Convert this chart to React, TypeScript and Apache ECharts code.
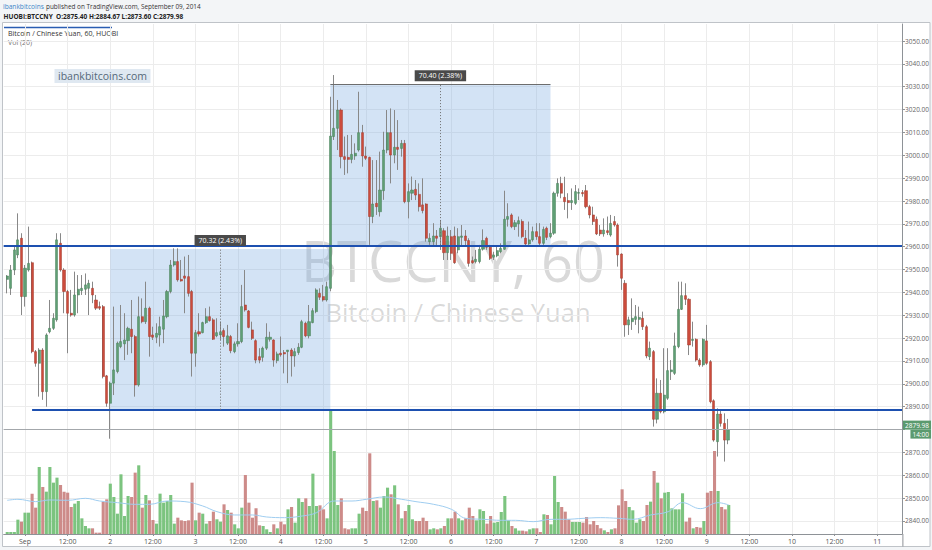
import React, { useEffect, useRef } from 'react';
import * as echarts from 'echarts';

// ---------- data ----------
const K0 = -6; // hour offset (from Sep 1 00:00) of the first category
const CATEGORY_COUNT = 254;
const categories = Array.from({ length: CATEGORY_COUNT }, (_, i) => String(i + K0));
const FIRST_CANDLE_HOUR = -5;

// [open, close, low, high], hourly from hour -5
const ohlc: number[][] = [
  [2945.7, 2947.2, 2939.6, 2947.6], [2941.8, 2949.8, 2938.9, 2952.0], [2949.8, 2958.6, 2947.6, 2960.0],
  [2956.4, 2963.0, 2955.0, 2974.6], [2963.7, 2938.2, 2930.1, 2965.9],
  [2938.2, 2950.6, 2933.8, 2952.0], [2949.8, 2952.7, 2949.1, 2968.8], [2953.0, 2914.1, 2913.4, 2953.5],
  [2914.1, 2909.0, 2907.5, 2914.8], [2909.0, 2914.8, 2894.4, 2915.6], [2914.8, 2896.6, 2893.0, 2915.6],
  [2896.6, 2921.4, 2890.0, 2922.1], [2922.8, 2924.3, 2922.1, 2936.7], [2924.3, 2928.7, 2923.6, 2930.9],
  [2928.0, 2963.0, 2927.2, 2965.9], [2961.5, 2949.8, 2949.1, 2965.9], [2949.8, 2940.4, 2930.9, 2950.6],
  [2940.4, 2930.9, 2913.4, 2941.1], [2930.9, 2930.1, 2929.4, 2941.1], [2930.1, 2938.9, 2929.4, 2949.1],
  [2938.9, 2941.4, 2930.9, 2947.6], [2940.8, 2941.8, 2938.9, 2947.6], [2941.4, 2943.3, 2938.9, 2948.3],
  [2941.8, 2944.0, 2930.1, 2945.5], [2941.8, 2938.9, 2935.3, 2944.7], [2936.7, 2933.1, 2932.3, 2938.9],
  [2933.8, 2933.1, 2932.3, 2936.0], [2933.8, 2903.2, 2902.4, 2934.5], [2903.5, 2891.5, 2890.0, 2903.9],
  [2891.5, 2900.3, 2876.0, 2901.0], [2900.3, 2906.1, 2895.1, 2933.8], [2905.4, 2917.8, 2904.6, 2918.5],
  [2916.3, 2918.5, 2915.6, 2934.5], [2917.5, 2919.2, 2910.4, 2930.9], [2918.9, 2924.3, 2912.7, 2925.0],
  [2923.9, 2920.7, 2913.4, 2936.7], [2920.7, 2899.5, 2894.4, 2921.4], [2899.5, 2929.4, 2898.8, 2938.2],
  [2929.4, 2927.2, 2926.5, 2937.4], [2927.2, 2933.1, 2926.2, 2944.7], [2933.1, 2920.7, 2911.9, 2933.8],
  [2921.4, 2920.4, 2919.2, 2925.0], [2920.4, 2922.1, 2917.8, 2926.5], [2921.4, 2925.0, 2916.3, 2929.4],
  [2923.9, 2929.7, 2917.8, 2936.7], [2929.4, 2940.4, 2928.7, 2941.1], [2940.4, 2952.0, 2939.6, 2954.2],
  [2952.0, 2953.5, 2951.3, 2959.3], [2953.5, 2945.5, 2944.7, 2959.3], [2945.7, 2945.0, 2944.7, 2954.2],
  [2947.2, 2946.2, 2930.9, 2955.7], [2946.9, 2939.6, 2938.2, 2956.4], [2940.4, 2913.4, 2903.2, 2941.1],
  [2913.4, 2922.4, 2907.5, 2923.6], [2922.8, 2921.8, 2920.7, 2930.9], [2922.4, 2926.8, 2922.1, 2927.2],
  [2926.8, 2929.4, 2926.2, 2933.1], [2929.4, 2927.7, 2927.2, 2933.8], [2928.0, 2919.5, 2919.2, 2928.7],
  [2921.0, 2922.4, 2920.4, 2928.7], [2921.4, 2922.8, 2919.2, 2927.2], [2923.3, 2920.7, 2916.3, 2924.3],
  [2917.8, 2921.0, 2917.0, 2925.8], [2920.7, 2914.5, 2913.4, 2921.4], [2914.1, 2917.5, 2913.4, 2918.5],
  [2917.5, 2918.5, 2916.3, 2926.5], [2918.5, 2933.8, 2917.8, 2943.3], [2934.5, 2932.3, 2931.6, 2949.8],
  [2931.9, 2924.7, 2924.3, 2932.3], [2923.6, 2919.9, 2919.2, 2927.2], [2918.9, 2910.4, 2909.0, 2919.5],
  [2911.9, 2910.4, 2909.0, 2915.6], [2911.6, 2915.6, 2909.7, 2916.3], [2915.6, 2920.4, 2914.8, 2926.5],
  [2919.5, 2920.4, 2918.5, 2922.8], [2919.2, 2910.4, 2907.5, 2919.5], [2910.2, 2913.1, 2909.0, 2914.1],
  [2913.4, 2912.7, 2911.9, 2920.7], [2913.7, 2913.1, 2904.6, 2914.8], [2914.1, 2914.8, 2900.3, 2914.8],
  [2914.8, 2912.2, 2903.2, 2915.6], [2912.2, 2914.1, 2907.5, 2915.6], [2913.7, 2916.0, 2912.7, 2917.8],
  [2916.0, 2927.2, 2915.6, 2928.0], [2926.5, 2921.0, 2920.4, 2927.2], [2921.0, 2927.2, 2919.9, 2934.5],
  [2926.8, 2932.0, 2926.5, 2933.1], [2931.6, 2941.1, 2930.9, 2941.8], [2939.6, 2937.9, 2936.7, 2941.8],
  [2938.2, 2936.7, 2936.0, 2943.3], [2936.7, 2942.5, 2936.0, 2944.7], [2941.8, 3008.4, 2940.5, 3025.6],
  [3008.2, 3011.8, 3006.7, 3035.1], [3011.8, 3019.8, 3002.3, 3024.2], [3019.8, 2999.4, 2994.3, 3020.5],
  [2999.4, 2998.2, 2991.4, 3008.2], [2999.1, 2998.2, 2992.1, 3008.9], [2998.2, 3000.4, 2996.5, 3008.9],
  [2999.7, 3000.9, 2998.0, 3005.2], [3002.3, 3009.9, 3001.6, 3027.8], [3009.9, 2999.7, 2995.0, 3013.3],
  [2999.7, 2998.7, 2997.9, 3003.8], [2999.1, 2973.2, 2960.8, 2999.4], [2973.2, 2978.7, 2970.3, 2997.9],
  [2979.0, 2977.5, 2973.9, 2997.9], [2975.3, 2984.8, 2973.2, 3001.6], [2984.5, 3002.3, 2980.5, 3010.3],
  [3002.3, 3009.9, 3000.9, 3019.8], [3009.9, 3000.1, 2987.7, 3020.5], [3000.1, 3003.5, 2996.5, 3019.8],
  [3003.5, 3002.6, 2993.6, 3015.4], [3003.0, 3005.2, 2999.4, 3006.7], [3005.2, 2979.7, 2979.0, 3006.7],
  [2979.7, 2984.1, 2972.4, 2987.7], [2983.4, 2984.8, 2980.4, 2990.7], [2985.1, 2982.6, 2980.4, 2989.2],
  [2982.9, 2977.5, 2975.4, 2987.7], [2978.3, 2975.8, 2974.6, 2989.9], [2978.7, 2963.7, 2962.2, 2979.0],
  [2962.2, 2963.7, 2960.8, 2965.9], [2962.2, 2964.7, 2960.0, 2970.3], [2964.7, 2963.7, 2960.0, 2967.3],
  [2964.4, 2968.1, 2958.6, 2971.7], [2967.0, 2957.4, 2954.2, 2968.1], [2957.4, 2964.7, 2954.2, 2968.8],
  [2964.4, 2957.1, 2954.2, 2967.3], [2964.7, 2953.0, 2952.5, 2968.8], [2958.6, 2964.4, 2957.1, 2968.1],
  [2964.1, 2964.7, 2960.0, 2969.5], [2964.7, 2962.7, 2960.0, 2967.3], [2962.7, 2952.7, 2951.3, 2963.7],
  [2953.9, 2953.0, 2952.5, 2955.7], [2953.5, 2954.5, 2952.7, 2958.6], [2953.5, 2958.9, 2952.7, 2960.8],
  [2958.9, 2962.7, 2958.3, 2967.6], [2963.7, 2959.8, 2958.6, 2964.4], [2959.8, 2954.9, 2954.2, 2960.8],
  [2955.4, 2956.4, 2954.2, 2957.8], [2956.0, 2958.3, 2955.4, 2960.0], [2957.8, 2959.3, 2957.1, 2961.5],
  [2958.9, 2972.0, 2958.6, 2984.5], [2972.0, 2973.2, 2968.8, 2979.0], [2973.9, 2968.8, 2968.1, 2974.6],
  [2968.8, 2970.5, 2967.3, 2971.7], [2970.0, 2971.4, 2964.4, 2973.2], [2971.1, 2964.4, 2963.7, 2972.0],
  [2963.7, 2961.2, 2960.0, 2967.3], [2961.2, 2963.0, 2960.8, 2971.0], [2963.0, 2966.6, 2962.2, 2968.8],
  [2966.6, 2964.4, 2963.0, 2970.3], [2964.4, 2961.5, 2960.0, 2970.3], [2961.5, 2967.6, 2960.8, 2968.8],
  [2968.1, 2964.1, 2962.9, 2968.8], [2964.4, 2965.9, 2963.7, 2970.3], [2965.9, 2983.4, 2965.2, 2984.1],
  [2983.4, 2987.7, 2981.9, 2989.9], [2987.7, 2983.4, 2981.2, 2990.6], [2981.6, 2979.7, 2976.1, 2990.6],
  [2980.2, 2979.3, 2972.4, 2983.4], [2979.3, 2980.2, 2976.1, 2985.5], [2979.0, 2984.1, 2978.3, 2987.0],
  [2983.4, 2983.7, 2980.4, 2985.5], [2983.7, 2983.2, 2981.9, 2984.8], [2984.5, 2977.5, 2976.8, 2987.0],
  [2977.5, 2973.9, 2972.4, 2978.3], [2973.9, 2971.0, 2969.5, 2977.5], [2972.0, 2965.6, 2965.1, 2973.2],
  [2967.3, 2965.6, 2964.7, 2969.5], [2965.6, 2967.3, 2964.4, 2972.4], [2967.0, 2966.2, 2965.1, 2973.2],
  [2965.1, 2970.2, 2964.4, 2973.9], [2971.0, 2969.5, 2968.8, 2973.4], [2969.5, 2956.4, 2951.3, 2970.2],
  [2956.8, 2946.2, 2941.1, 2957.1], [2944.0, 2925.8, 2920.6, 2945.4], [2925.8, 2928.0, 2921.4, 2929.4],
  [2927.2, 2928.7, 2923.6, 2937.4], [2928.2, 2929.4, 2925.8, 2934.5], [2928.2, 2929.1, 2922.1, 2933.8],
  [2928.7, 2925.0, 2923.6, 2931.6], [2925.0, 2912.2, 2911.2, 2925.8], [2911.9, 2915.6, 2910.4, 2918.5],
  [2914.1, 2884.5, 2881.3, 2914.8], [2884.5, 2895.9, 2882.7, 2902.4], [2895.9, 2887.8, 2887.1, 2901.7],
  [2887.8, 2895.1, 2887.1, 2915.6], [2893.7, 2905.8, 2893.0, 2915.6], [2905.3, 2906.1, 2901.7, 2910.4],
  [2904.6, 2916.6, 2903.9, 2922.4], [2916.3, 2932.6, 2915.6, 2944.7], [2932.6, 2938.6, 2932.3, 2944.7],
  [2938.6, 2937.0, 2934.5, 2944.0], [2937.0, 2917.0, 2912.6, 2937.4], [2919.0, 2919.5, 2916.3, 2927.2],
  [2919.5, 2910.4, 2909.7, 2919.9], [2910.4, 2908.3, 2907.5, 2911.2], [2908.3, 2919.5, 2907.5, 2919.9],
  [2918.8, 2909.0, 2908.3, 2925.8], [2909.7, 2892.2, 2891.5, 2910.4], [2892.6, 2875.4, 2874.7, 2893.2],
  [2874.7, 2886.8, 2868.2, 2889.3], [2886.8, 2882.7, 2881.3, 2888.9], [2882.7, 2875.4, 2866.0, 2887.1],
  [2875.40, 2879.98, 2873.60, 2884.67],
];

const volume: number[] = [
  60, 60, 60, 427, 367,
  635, 635, 1201, 784, 1994, 1399, 1260, 1994, 1528, 1677,
  1459, 1260, 1230, 804, 903, 982, 466, 238, 169, 169,
  40, 40, 963, 1032, 1498, 1101, 605, 1776, 536, 1131,
  1101, 1826, 2044, 784, 1161, 1002, 417, 308, 1201, 933,
  982, 1161, 308, 486, 407, 387, 407, 1528, 407, 635,
  605, 308, 387, 665, 437, 367, 883, 715, 635, 288,
  169, 784, 1756, 933, 486, 764, 258, 238, 139, 60,
  288, 169, 367, 288, 734, 804, 338, 1062, 953, 1062,
  834, 1796, 834, 853, 734, 466, 3720, 2470, 863, 1062,
  169, 139, 169, 169, 605, 784, 685, 2401, 982, 1002,
  784, 1131, 1379, 1181, 1449, 883, 466, 685, 863, 437,
  387, 387, 486, 387, 139, 169, 139, 169, 238, 466,
  466, 665, 466, 407, 466, 784, 536, 407, 734, 685,
  308, 536, 338, 357, 655, 1131, 407, 238, 169, 100,
  100, 80, 139, 169, 169, 60, 586, 566, 288, 1726,
  953, 804, 665, 437, 357, 357, 357, 338, 506, 288,
  387, 268, 169, 109, 60, 139, 169, 853, 1330, 982,
  804, 705, 338, 437, 387, 863, 963, 1875, 1528, 1062,
  1230, 1250, 764, 734, 734, 1211, 367, 486, 169, 209,
  189, 387, 1230, 1280, 2470, 1280, 804, 734, 864,
];

// Vol (20) moving average, read at [hour, value]
const volumeMA: number[][] = [
  [-5, 1002], [-2, 1032], [3, 963], [7, 1012], [12, 1002], [17, 1062], [21, 982], [26, 933],
  [31, 883], [35, 883], [40, 982], [45, 963], [50, 834], [54, 665], [59, 566], [64, 566],
  [68, 506], [73, 486], [78, 536], [82, 635], [87, 982], [92, 982], [96, 1032], [101, 1101],
  [106, 1032], [110, 963], [115, 883], [120, 734], [124, 466], [129, 437], [134, 407], [138, 407],
  [143, 367], [148, 437], [152, 437], [157, 466], [162, 486], [167, 466], [171, 437], [176, 566],
  [181, 665], [185, 933], [190, 754], [195, 933], [198, 863],
];

const tickLabels = ['Sep', '12:00', '2', '12:00', '3', '12:00', '4', '12:00', '5', '12:00', '6', '12:00',
  '7', '12:00', '8', '12:00', '9', '12:00', '10', '12:00', '11'];
const priceTicks = [2840, 2850, 2860, 2870, 2880, 2890, 2900, 2910, 2920, 2930, 2940,
  2950, 2960, 2970, 2980, 2990, 3000, 3010, 3020, 3030, 3040, 3050];
// 2880.00 sits under the last-price tag, so it has no visible label
const priceLabels = priceTicks.filter((v) => v !== 2880);

const upperLevel = 2960.3;
const lowerLevel = 2888.6;
const lowerLevelStartHour = 2;
const range1 = { fromHour: 24, toHour: 86, midHour: 55, low: 2888.7, high: 2959.0, label: '70.32 (2.43%)' };
const range2 = { fromHour: 86, toHour: 148, midHour: 117, low: 2960.7, high: 3031.1, label: '70.40 (2.38%)' };
const lastClose = 2879.98;
const countdown = '14:00';
const lastVolume = 864;

// ---------- layout ----------
const PRICE_MIN = 2834.31;
const PRICE_MAX = 3057.44;
const VOL_MAX = 4464;
const FONT = '"Open Sans", "Noto Sans", sans-serif';

const idx = (h: number) => h - K0;
const isTick = (index: number) => {
  const h = index + K0;
  return h >= 0 && h <= 240 && h % 12 === 0;
};

export default function App() {
  const ref = useRef<HTMLDivElement>(null);

  useEffect(() => {
    if (!ref.current) return;
    const chart = echarts.init(ref.current, undefined, { renderer: 'svg' });
    const offset = FIRST_CANDLE_HOUR - K0;
    const empty = ['-', '-', '-', '-'];
    const wickData = categories.map((_, i) => {
      const r = ohlc[i - offset];
      return r ? r : empty;
    });
    const bodyData = categories.map((_, i) => {
      const r = ohlc[i - offset];
      return r ? [r[0], r[1], Math.min(r[0], r[1]), Math.max(r[0], r[1])] : empty;
    });
    const volData = categories.map((_, i) => {
      const r = ohlc[i - offset];
      const v = volume[i - offset];
      if (!r || v == null) return '-';
      return { value: v, itemStyle: { color: r[1] >= r[0] ? '#7cc47f' : '#cd8b89' } };
    });
    const maData = volumeMA.map(([h, v]) => [idx(h), v]);
    const N = CATEGORY_COUNT - 1;

    const tagStyle = (bg: string) => ({
      backgroundColor: bg, color: '#fff', fontSize: 6.5, fontFamily: FONT, padding: [1, 2, 1, 2],
    });

    const option: any = {
      animation: false,
      backgroundColor: '#ffffff',
      grid: [
        { left: 3.68, right: 29.1, top: 24, bottom: 16 },
        { left: 3.68, right: 29.1, top: 384, bottom: 16 },
      ],
      xAxis: [
        {
          type: 'category', gridIndex: 0, data: categories, boundaryGap: false,
          axisLine: { lineStyle: { color: '#8e9297' } },
          axisTick: { show: true, interval: isTick, length: 2, lineStyle: { color: '#8e9297' } },
          axisLabel: {
            interval: isTick, fontSize: 7, color: '#555', margin: 4, fontFamily: FONT,
            formatter: (v: string) => tickLabels[Number(v) / 12] ?? '',
          },
          splitLine: { show: true, interval: isTick, lineStyle: { color: '#ececec', width: 1 } },
        },
        {
          type: 'category', gridIndex: 1, data: categories, boundaryGap: false, show: false,
        },
      ],
      yAxis: [
        {
          type: 'value', gridIndex: 0, position: 'right', min: PRICE_MIN, max: PRICE_MAX,
          axisLine: { show: true, lineStyle: { color: '#8e9297' } },
          axisTick: { show: true, customValues: priceTicks, length: 3, lineStyle: { color: '#8e9297' } },
          axisLabel: {
            customValues: priceLabels, fontSize: 6.5, color: '#666', margin: 3, fontFamily: FONT,
            formatter: (v: number) => v.toFixed(2),
          },
          splitLine: { show: true, lineStyle: { color: '#ececec', width: 1 } },
        },
        { type: 'value', gridIndex: 1, min: 0, max: VOL_MAX, show: false, splitLine: { show: false } },
      ],
      series: [
        {
          type: 'bar', name: 'volume', xAxisIndex: 1, yAxisIndex: 1, data: volData, barWidth: 3.1,
          z: 1, clip: false, silent: true,
          markLine: {
            silent: true, symbol: ['none', 'none'],
            data: [{
              yAxis: lastVolume, lineStyle: { opacity: 0 },
              label: {
                show: true, position: 'end', distance: 1, formatter: String(lastVolume),
                ...tagStyle('#2f9be8'), fontSize: 6, lineHeight: 6, padding: [0.5, 2, 0.5, 2],
              },
            }],
          },
        },
        {
          type: 'line', name: 'vol ma', xAxisIndex: 1, yAxisIndex: 1, data: maData, symbol: 'none',
          smooth: 0.4, z: 2, silent: true, lineStyle: { color: '#9fcdf0', width: 1 },
        },
        {
          type: 'candlestick', name: 'wick', xAxisIndex: 0, yAxisIndex: 0, data: wickData, barWidth: 1,
          z: 3, clip: false, silent: true,
          itemStyle: { color: '#888', color0: '#888', borderColor: '#888', borderColor0: '#888', borderWidth: 1 },
        },
        {
          type: 'candlestick', name: 'BTCCNY', xAxisIndex: 0, yAxisIndex: 0, data: bodyData, barWidth: 2.6,
          z: 4, clip: false, silent: true,
          itemStyle: {
            color: '#5f9f74', color0: '#cc4b3c', borderColor: '#467f58', borderColor0: '#a23a2d', borderWidth: 0.5,
          },
          markArea: {
            silent: true,
            itemStyle: { color: 'rgba(120,170,225,0.33)' },
            data: [
              [{ coord: [idx(range1.fromHour), range1.high] }, { coord: [idx(range1.toHour), range1.low] }],
              [{ coord: [idx(range2.fromHour), range2.high] }, { coord: [idx(range2.toHour), range2.low] }],
            ],
          },
          markLine: {
            silent: true, symbol: ['none', 'none'], animation: false,
            label: { show: false },
            data: [
              [
                { coord: [0, upperLevel], lineStyle: { color: '#1d50b0', width: 2, type: 'solid' }, label: { show: false } },
                { coord: [N, upperLevel] },
              ],
              [
                { coord: [idx(lowerLevelStartHour), lowerLevel], lineStyle: { color: '#1d50b0', width: 2, type: 'solid' }, label: { show: false } },
                { coord: [N, lowerLevel] },
              ],
              [
                {
                  coord: [0, lastClose], lineStyle: { color: '#a3a7ab', width: 1, type: 'solid' },
                  label: {
                    show: true, position: 'end', distance: 1,
                    formatter: `{a|${lastClose.toFixed(2)}}\n{b|${countdown}}`,
                    rich: {
                      a: { ...tagStyle('#5b9a6e') },
                      b: { ...tagStyle('#5b9a6e'), align: 'right' },
                    },
                  },
                },
                { coord: [N, lastClose] },
              ],
              [
                { coord: [idx(range2.fromHour), range2.high], lineStyle: { color: '#6d6d6d', width: 1, type: 'solid' }, label: { show: false } },
                { coord: [idx(range2.toHour), range2.high] },
              ],
              [
                {
                  coord: [idx(range1.midHour), range1.low], lineStyle: { color: '#6d6d6d', width: 1, type: [1, 2] },
                  label: { show: true, position: 'end', distance: 3, formatter: range1.label, ...tagStyle('#4a4a4a'), padding: [2, 4, 2, 4], fontSize: 7 },
                },
                { coord: [idx(range1.midHour), range1.high] },
              ],
              [
                {
                  coord: [idx(range2.midHour), range2.low], lineStyle: { color: '#6d6d6d', width: 1, type: [1, 2] },
                  label: { show: true, position: 'end', distance: 3, formatter: range2.label, ...tagStyle('#4a4a4a'), padding: [2, 4, 2, 4], fontSize: 7 },
                },
                { coord: [idx(range2.midHour), range2.high] },
              ],
            ],
          },
        },
      ],
      graphic: [
        { type: 'rect', silent: true, shape: { x: 0, y: 0, width: 932, height: 22.5 }, style: { fill: '#f3f5f7' } },
        { type: 'rect', silent: true, shape: { x: 0, y: 546.5, width: 932, height: 4 }, style: { fill: '#f3f5f7' } },
        { type: 'rect', silent: true, shape: { x: 0, y: 0, width: 2.5, height: 550 }, style: { fill: '#f3f5f7' } },
        { type: 'rect', silent: true, shape: { x: 930, y: 0, width: 2, height: 550 }, style: { fill: '#f3f5f7' } },
        { type: 'rect', silent: true, shape: { x: 2.5, y: 22.5, width: 927.5, height: 524 }, style: { fill: 'none', stroke: '#bfc3c8', lineWidth: 1 } },
        { type: 'line', silent: true, shape: { x1: 902.9, y1: 534, x2: 902.9, y2: 546.5 }, style: { stroke: '#8e9297', lineWidth: 1 } },
        { type: 'text', silent: true, style: { text: 'ibankbitcoins', x: 3, y: 6.5, fill: '#3d86c8', font: `6.6px ${FONT}`, verticalAlign: 'middle' } },
        { type: 'text', silent: true, style: { text: 'published on TradingView.com, September 09, 2014', x: 46, y: 6.5, fill: '#333', font: `6.4px ${FONT}`, verticalAlign: 'middle' } },
        { type: 'text', silent: true, style: { text: 'HUOBI:BTCCNY  O:2875.40 H:2884.67 L:2873.60 C:2879.98', x: 3.5, y: 16, fill: '#222', font: `bold 6.5px ${FONT}`, verticalAlign: 'middle' } },
        { type: 'line', silent: true, shape: { x1: 4, y1: 27.5, x2: 112, y2: 27.5 }, style: { stroke: '#2a5db2', lineWidth: 1.5 } },
        { type: 'text', silent: true, style: { text: 'Bitcoin / Chinese Yuan, 60, HUOBI', x: 8, y: 33, fill: '#333', font: `7px ${FONT}`, verticalAlign: 'middle' } },
        { type: 'text', silent: true, style: { text: 'Vol (20)', x: 8, y: 42.5, fill: '#777', font: `7px ${FONT}`, verticalAlign: 'middle' } },
        { type: 'rect', silent: true, z: 10, shape: { x: 54.5, y: 69, width: 96, height: 14 }, style: { fill: '#dfe8f1' } },
        { type: 'text', silent: true, z: 11, style: { text: 'ibankbitcoins.com', x: 102.5, y: 76, fill: '#56687a', font: `10.5px ${FONT}`, align: 'center', verticalAlign: 'middle' } },
        { type: 'text', silent: true, z: -1, style: { text: 'BTCCNY, 60', x: 453, y: 260, fill: 'rgba(120,120,120,0.28)', font: `56px ${FONT}`, align: 'center', verticalAlign: 'middle' } },
        { type: 'text', silent: true, z: -1, style: { text: 'Bitcoin / Chinese Yuan', x: 458, y: 312, fill: 'rgba(120,120,120,0.28)', font: `25.5px ${FONT}`, align: 'center', verticalAlign: 'middle' } },
      ],
    };

    chart.setOption(option);
    return () => chart.dispose();
  }, []);

  return <div ref={ref} style={{ position: 'absolute', left: 0, top: 0, width: 932, height: 550 }} />;
}
